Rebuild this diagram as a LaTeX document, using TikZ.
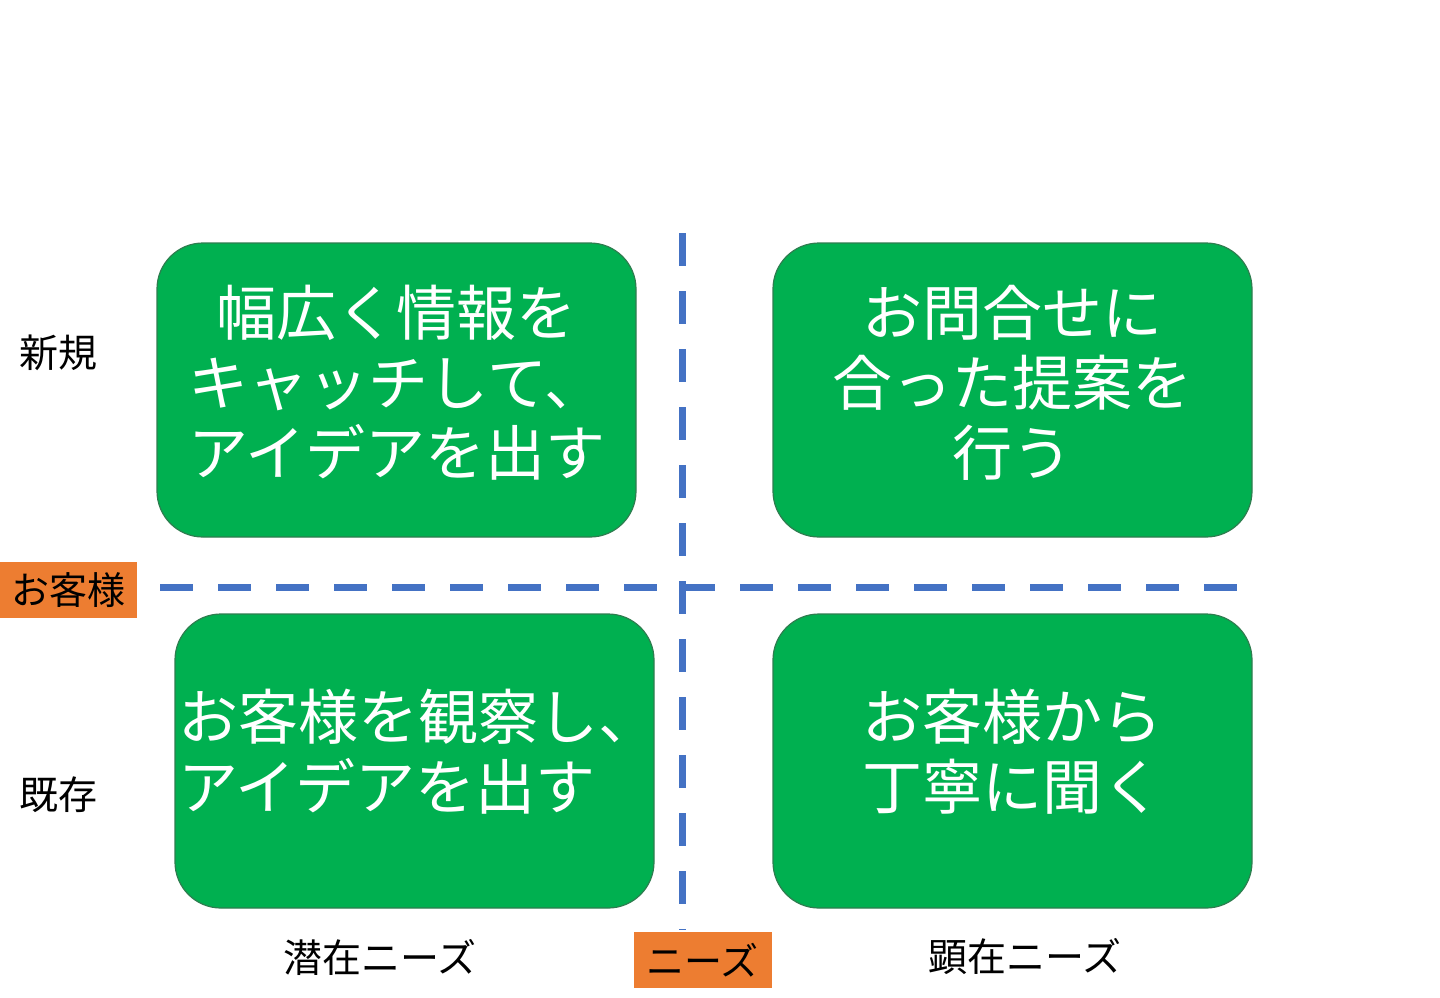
\documentclass[tikz,border=0pt]{standalone}
\usepackage{fontspec}
\setmainfont{Noto Sans CJK JP}
\definecolor{boxgreen}{HTML}{00B050}
\definecolor{boxedge}{HTML}{2E7D4F}
\definecolor{dashblue}{HTML}{4472C4}
\definecolor{tagorange}{HTML}{ED7D31}
\tikzset{
  quad/.style={draw=boxedge, line width=0.6pt, fill=boxgreen, rounded corners=23pt,
    minimum width=239.5pt, minimum height=147pt, inner sep=0pt},
  quadtext/.style={align=center, text=white, inner sep=0pt,
    font=\fontsize{30pt}{35pt}\selectfont},
  divider/.style={draw=dashblue, line width=3.5pt, dash pattern=on 16.5pt off 12.5pt},
  axislabel/.style={font=\fontsize{19.5pt}{22pt}\selectfont, text=black, inner sep=0pt},
  tag/.style={fill=tagorange, font=\fontsize{19pt}{22pt}\selectfont, text=black,
    minimum height=28pt, inner sep=0pt}
}
\begin{document}
\begin{tikzpicture}[x=0.5pt,y=-0.5pt]
\useasboundingbox (0,0) rectangle (1440,997);
% dividers
\coordinate (vtop) at (682,233);
\coordinate (vbot) at (682,930);
\coordinate (hleft) at (160,587);
\coordinate (hright) at (1240,587);
\draw[divider] (vtop) -- (vbot);
\draw[divider] (hleft) -- (hright);
% boxes
\node[quad] (tl) at (396.5,390) {};
\node[quad] (tr) at (1012.5,390) {};
\node[quad] (bl) at (414.5,761) {};
\node[quad] (br) at (1012.5,761) {};
\node[quadtext] (tlt) at ([yshift=3.5pt]tl.center) {幅広く情報を\\キャッチして、\\アイデアを出す};
\node[quadtext] (trt) at ([yshift=3.5pt]tr.center) {お問合せに\\合った提案を\\行う};
\node[quadtext, align=left, text width=236pt] (blt) at ([yshift=4.5pt]bl.center) {お客様を観察し、\\アイデアを出す};
\node[quadtext] (brt) at ([yshift=4.5pt]br.center) {お客様から\\丁寧に聞く};
% labels
\node[axislabel] (new) at (58,353) {新規};
\node[axislabel] (old) at (58,795) {既存};
\node[tag, minimum width=68.5pt] (cust) at (68.5,590) {お客様};
\node[axislabel] (latent) at (380,957) {潜在ニーズ};
\node[tag, minimum width=69pt] (needs) at (702.5,960) {ニーズ};
\node[axislabel] (manifest) at (1025,957) {顕在ニーズ};
\end{tikzpicture}
\end{document}
